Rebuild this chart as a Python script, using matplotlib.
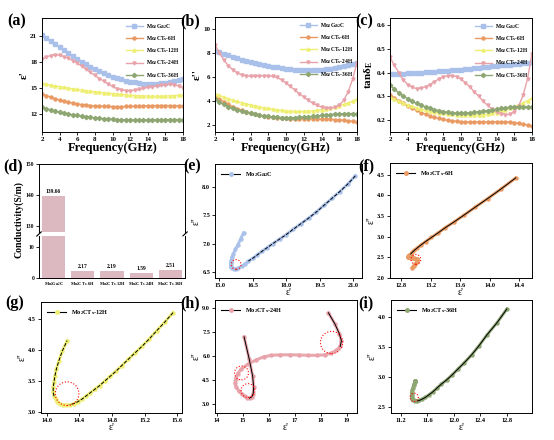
import numpy as np
import matplotlib
matplotlib.use("Agg")
import matplotlib.pyplot as plt
from matplotlib.lines import Line2D

plt.rcParams['font.family'] = ['Liberation Serif', 'DejaVu Serif']
plt.rcParams['font.weight'] = 'bold'
plt.rcParams['mathtext.fontset'] = 'custom'
plt.rcParams['mathtext.rm'] = 'Liberation Serif:bold'
plt.rcParams['mathtext.it'] = 'Liberation Serif:italic:bold'
plt.rcParams['mathtext.bf'] = 'Liberation Serif:bold'

# frequency grid (GHz), 0.5 GHz step
freq = np.arange(2.0, 18.01, 0.5)

names = ['Mo$_2$Ga$_2$C', 'Mo$_2$CT$_\\mathrm{x}$-6H', 'Mo$_2$CT$_\\mathrm{x}$-12H',
         'Mo$_2$CT$_\\mathrm{x}$-24H', 'Mo$_2$CT$_\\mathrm{x}$-36H']
colors = ['#a9c1ea', '#e99a62', '#eeee70', '#e8a2aa', '#8da672']
markers = ['s', 'o', '^', 'v', 'D']

# real permittivity
ep_ga = [21.1, 20.75, 20.4, 20.05, 19.7, 19.35, 19.0, 18.65, 18.3, 18.0, 17.7, 17.4, 17.15, 16.9, 16.7, 16.5,
         16.3, 16.15, 16.0, 15.85, 15.75, 15.65, 15.58, 15.52, 15.5, 15.5, 15.52, 15.57, 15.63, 15.72, 15.83, 15.95, 16.08]
ep_6h = [14.35, 14.15, 13.97, 13.8, 13.65, 13.52, 13.4, 13.3, 13.21, 13.13, 13.07, 13.02, 12.98, 12.95, 12.93, 12.91,
         12.9, 12.9, 12.9, 12.91, 12.92, 12.94, 12.96, 12.98, 13.0, 13.01, 13.02, 13.02, 13.02, 13.01, 12.99, 12.97, 12.95]
ep_12h = [15.55, 15.45, 15.35, 15.26, 15.17, 15.08, 15.0, 14.92, 14.85, 14.78, 14.71, 14.65, 14.59, 14.53, 14.48, 14.43,
          14.38, 14.33, 14.28, 14.24, 14.2, 14.16, 14.13, 14.11, 14.09, 14.08, 14.08, 14.09, 14.1, 14.12, 14.15, 14.19, 14.25]
ep_24h = [18.3, 18.55, 18.72, 18.8, 18.75, 18.6, 18.4, 18.15, 17.85, 17.5, 17.15, 16.8, 16.45, 16.1, 15.8, 15.5,
          15.2, 14.95, 14.8, 14.72, 14.7, 14.75, 14.85, 14.97, 15.08, 15.18, 15.26, 15.34, 15.4, 15.42, 15.38, 15.25, 15.05]
ep_36h = [12.8, 12.65, 12.5, 12.38, 12.27, 12.16, 12.06, 11.97, 11.89, 11.81, 11.74, 11.68, 11.62, 11.57, 11.52, 11.48,
          11.45, 11.42, 11.4, 11.38, 11.37, 11.36, 11.36, 11.36, 11.37, 11.38, 11.39, 11.4, 11.41, 11.42, 11.42, 11.42, 11.42]

# imaginary permittivity
epp_ga = [8.2, 8.05, 7.92, 7.8, 7.68, 7.56, 7.45, 7.35, 7.25, 7.16, 7.08, 7.0, 6.93, 6.86, 6.8, 6.74,
          6.69, 6.64, 6.6, 6.57, 6.55, 6.55, 6.56, 6.58, 6.61, 6.65, 6.7, 6.76, 6.82, 6.9, 6.98, 7.08, 7.19]
epp_6h = [4.42, 4.15, 3.92, 3.71, 3.52, 3.36, 3.22, 3.09, 2.98, 2.88, 2.8, 2.73, 2.67, 2.62, 2.58, 2.55,
          2.53, 2.51, 2.5, 2.5, 2.5, 2.49, 2.49, 2.48, 2.47, 2.46, 2.45, 2.43, 2.41, 2.38, 2.34, 2.3, 2.25]
epp_12h = [4.6, 4.45, 4.31, 4.18, 4.06, 3.95, 3.85, 3.75, 3.66, 3.58, 3.5, 3.43, 3.37, 3.31, 3.26, 3.21,
           3.17, 3.14, 3.12, 3.12, 3.12, 3.14, 3.17, 3.21, 3.26, 3.32, 3.4, 3.49, 3.58, 3.7, 3.83, 3.98, 4.15]
epp_24h = [8.7, 8.0, 7.4, 6.95, 6.6, 6.35, 6.18, 6.08, 6.05, 6.05, 6.07, 6.08, 6.08, 6.05, 5.95, 5.75,
           5.5, 5.2, 4.9, 4.6, 4.32, 4.05, 3.82, 3.62, 3.48, 3.4, 3.38, 3.45, 3.65, 4.05, 4.75, 5.8, 7.2]
epp_36h = [4.13, 3.9, 3.7, 3.52, 3.37, 3.24, 3.13, 3.03, 2.95, 2.88, 2.81, 2.75, 2.7, 2.66, 2.63, 2.61,
           2.6, 2.6, 2.61, 2.62, 2.64, 2.67, 2.7, 2.74, 2.78, 2.82, 2.86, 2.89, 2.91, 2.93, 2.94, 2.94, 2.93]

# dielectric loss tangent
tan_ga = [0.395, 0.395, 0.395, 0.396, 0.397, 0.398, 0.399, 0.4, 0.401, 0.402, 0.403, 0.405, 0.406, 0.408, 0.409, 0.411,
          0.412, 0.414, 0.416, 0.418, 0.42, 0.422, 0.424, 0.426, 0.428, 0.43, 0.432, 0.434, 0.436, 0.438, 0.44, 0.442, 0.444]
tan_6h = [0.305, 0.293, 0.282, 0.27, 0.26, 0.25, 0.241, 0.232, 0.225, 0.218, 0.212, 0.207, 0.203, 0.199, 0.197, 0.195,
          0.194, 0.193, 0.193, 0.193, 0.193, 0.193, 0.193, 0.193, 0.193, 0.193, 0.193, 0.192, 0.19, 0.187, 0.183, 0.179, 0.175]
tan_12h = [0.296, 0.288, 0.28, 0.272, 0.265, 0.258, 0.252, 0.246, 0.241, 0.237, 0.233, 0.23, 0.228, 0.226, 0.224, 0.223,
           0.222, 0.221, 0.221, 0.221, 0.222, 0.223, 0.225, 0.228, 0.232, 0.237, 0.243, 0.249, 0.256, 0.264, 0.273, 0.282, 0.292]
tan_24h = [0.465, 0.43, 0.4, 0.37, 0.35, 0.338, 0.333, 0.334, 0.34, 0.35, 0.362, 0.373, 0.382, 0.386, 0.387, 0.383,
           0.373, 0.358, 0.34, 0.32, 0.3, 0.28, 0.262, 0.247, 0.235, 0.227, 0.223, 0.224, 0.235, 0.26, 0.305, 0.375, 0.48]
tan_36h = [0.35, 0.33, 0.315, 0.301, 0.29, 0.279, 0.27, 0.262, 0.255, 0.249, 0.244, 0.24, 0.236, 0.233, 0.231, 0.23,
           0.23, 0.23, 0.231, 0.233, 0.235, 0.237, 0.24, 0.243, 0.246, 0.249, 0.252, 0.254, 0.256, 0.257, 0.257, 0.256, 0.255]

# conductivity (S/m)
samples = ['Mo$_2$Ga$_2$C', 'Mo$_2$CT$_\\mathrm{x}$-6H', 'Mo$_2$CT$_\\mathrm{x}$-12H',
           'Mo$_2$CT$_\\mathrm{x}$-24H', 'Mo$_2$CT$_\\mathrm{x}$-36H']
sigma = [139.66, 2.17, 2.19, 1.59, 2.51]

eps1 = [ep_ga, ep_6h, ep_12h, ep_24h, ep_36h]
eps2 = [epp_ga, epp_6h, epp_12h, epp_24h, epp_36h]
tans = [tan_ga, tan_6h, tan_12h, tan_24h, tan_36h]

W, H = 554, 440
fig = plt.figure(figsize=(W / 100, H / 100), dpi=100)


def box(l, t, r, b):
    return [l / W, 1 - b / H, (r - l) / W, (b - t) / H]


def style(ax, fs=5):
    ax.tick_params(direction='out', length=2, width=0.6, labelsize=fs, pad=1.5)
    for s in ax.spines.values():
        s.set_linewidth(0.7)


def plabel(txt, x, y):
    fig.text(x / W, 1 - y / H, txt, fontsize=11.5, fontweight='bold', ha='left', va='center')


# ---------- (a)(b)(c) frequency plots ----------
freq_panels = [
    ('(a)', (7, 21), box(42, 18, 183, 132), eps1, "ε'", (10, 23), [12, 15, 18, 21]),
    ('(b)', (180, 21), box(215, 17, 357, 132), eps2, "ε''", (1.4, 11), [2, 4, 6, 8, 10]),
    ('(c)', (355, 21), box(390, 18, 532, 132), tans, 'tanδ$_\\mathrm{E}$', (0.15, 0.63), [0.2, 0.3, 0.4, 0.5, 0.6]),
]
for lab, lp, rect, data, ylab, ylim, yt in freq_panels:
    ax = fig.add_axes(rect)
    for k in range(5):
        ax.plot(freq, data[k], color=colors[k], marker=markers[k], ms=2.2, lw=1.0, label=names[k])
    ax.set_xlim(2, 18)
    ax.set_xticks(range(2, 19, 2))
    ax.set_ylim(*ylim)
    ax.set_yticks(yt)
    ax.set_xlabel('Frequency(GHz)', fontsize=9, fontweight='bold', labelpad=0)
    ax.set_ylabel(ylab, fontsize=8, fontweight='bold', labelpad=1)
    style(ax)
    ax.legend(loc='upper right', fontsize=4, frameon=False, handlelength=3, labelspacing=0.6,
              borderaxespad=0.3, handletextpad=0.6)
    plabel(lab, *lp)

# ---------- (d) conductivity with broken axis ----------
ax_hi = fig.add_axes(box(39, 164, 185, 232))
ax_lo = fig.add_axes(box(39, 236, 185, 278))
xpos = np.arange(len(samples))
bar_col = '#dcb9c0'
for axd in (ax_hi, ax_lo):
    axd.bar(xpos, sigma, width=0.8, color=bar_col)
    axd.set_xlim(-0.5, 4.5)
    style(axd, fs=4)
ax_hi.set_ylim(128.2, 150)
ax_hi.set_yticks([130, 140, 150])
ax_lo.set_ylim(0, 13.5)
ax_lo.set_yticks([0, 10])
ax_hi.spines['bottom'].set_visible(False)
ax_lo.spines['top'].set_visible(False)
ax_hi.tick_params(bottom=False, labelbottom=False)
ax_lo.set_xticks(xpos)
ax_lo.set_xticklabels(samples, fontsize=3.2)
ax_lo.tick_params(axis='x', length=0, pad=2)
for i, v in enumerate(sigma):
    axd = ax_hi if v > 100 else ax_lo
    axd.text(xpos[i], v + (0.8 if v > 100 else 0.6), f'{v:.2f}', ha='center', va='bottom', fontsize=4,
             fontweight='bold')
kw = dict(color='k', lw=0.6, clip_on=False)
for xx in (0, 1):
    ax_hi.plot([xx - 0.015, xx + 0.015], [-0.06, 0.0], transform=ax_hi.transAxes, **kw)
    ax_lo.plot([xx - 0.015, xx + 0.015], [1.0, 1.1], transform=ax_lo.transAxes, **kw)
fig.text(19 / W, 1 - 220 / H, 'Conductivity(S/m)', rotation=90, fontsize=7,
         fontweight='bold', ha='center', va='center')
plabel('(d)', 3, 166)

# ---------- (e)-(i) Cole-Cole plots ----------
cole = [
    ('(e)', (183, 166), box(215, 164, 362, 278), 0, (14.8, 21.4), [15.0, 16.5, 18.0, 19.5, 21.0], '%.1f',
     (6.39, 8.41), [6.5, 7.0, 7.5, 8.0], '%.1f', [(0, 17)], '--', [(15.75, 6.63, 7)]),
    ('(f)', (358, 166), box(390, 163, 532, 278), 1, (12.65, 14.57), [12.8, 13.2, 13.6, 14.0, 14.4], '%.1f',
     (2.0, 4.78), [2.0, 2.5, 3.0, 3.5, 4.0, 4.5], '%.1f', [(0, 15)], '-', [(13.0, 2.45, 7)]),
    ('(g)', (5, 303), box(41, 302, 182, 413), 2, (13.93, 15.66), [14.0, 14.4, 14.8, 15.2, 15.6], '%.1f',
     (2.99, 4.77), [3.0, 3.5, 4.0, 4.5], '%.1f', [(0, 19), (24, 33)], '--', [(14.25, 3.3, 17)]),
    ('(h)', (180, 303), box(215, 300, 357, 413), 3, (13.93, 19.4), [14, 15, 16, 17, 18, 19], '%d',
     (2.45, 9.5), [3.0, 4.5, 6.0, 7.5, 9.0], '%.1f', [(0, 5), (26, 33)], '-',
     [(18.42, 6.85, 16), (14.95, 4.95, 10), (15.2, 3.85, 10)]),
    ('(i)', (358, 303), box(391, 300, 532, 413), 4, (11.05, 13.18), [11.2, 11.6, 12.0, 12.4, 12.8], '%.1f',
     (2.4, 4.28), [2.5, 3.0, 3.5, 4.0], '%.1f', [(0, 17)], '-', [(11.4, 2.66, 6)]),
]
for lab, lp, rect, k, xl, xt, xf, yl, yt, yf, segs, ls, circles in cole:
    ax = fig.add_axes(rect)
    ax.plot(eps1[k], eps2[k], color=colors[k], lw=2.2, marker='o', ms=2.2, alpha=0.95, zorder=2)
    for s0, s1 in segs:
        ax.plot(eps1[k][s0:s1], eps2[k][s0:s1], color='k', lw=0.7, ls=ls, zorder=3)
    for cx, cy, d in circles:
        ax.scatter([cx], [cy], s=d ** 2, facecolors='none', edgecolors='red', linewidths=0.8,
                   linestyles=':', zorder=4)
    ax.set_xlim(*xl)
    ax.set_xticks(xt)
    ax.xaxis.set_major_formatter(plt.FormatStrFormatter(xf))
    ax.set_ylim(*yl)
    ax.set_yticks(yt)
    ax.yaxis.set_major_formatter(plt.FormatStrFormatter(yf))
    ax.set_xlabel("ε'", fontsize=7, fontweight='normal', labelpad=0)
    ax.set_ylabel("ε''", fontsize=7, fontweight='normal', labelpad=1)
    style(ax, fs=4.5)
    h = Line2D([], [], color='k', lw=0.8, marker='o', ms=2.5, mfc=colors[k], mec=colors[k])
    ax.legend([h], [names[k]], loc='upper left', fontsize=4.5, frameon=False, handlelength=3,
              borderaxespad=0.6)
    plabel(lab, *lp)

fig.savefig('out.png', dpi=100)
